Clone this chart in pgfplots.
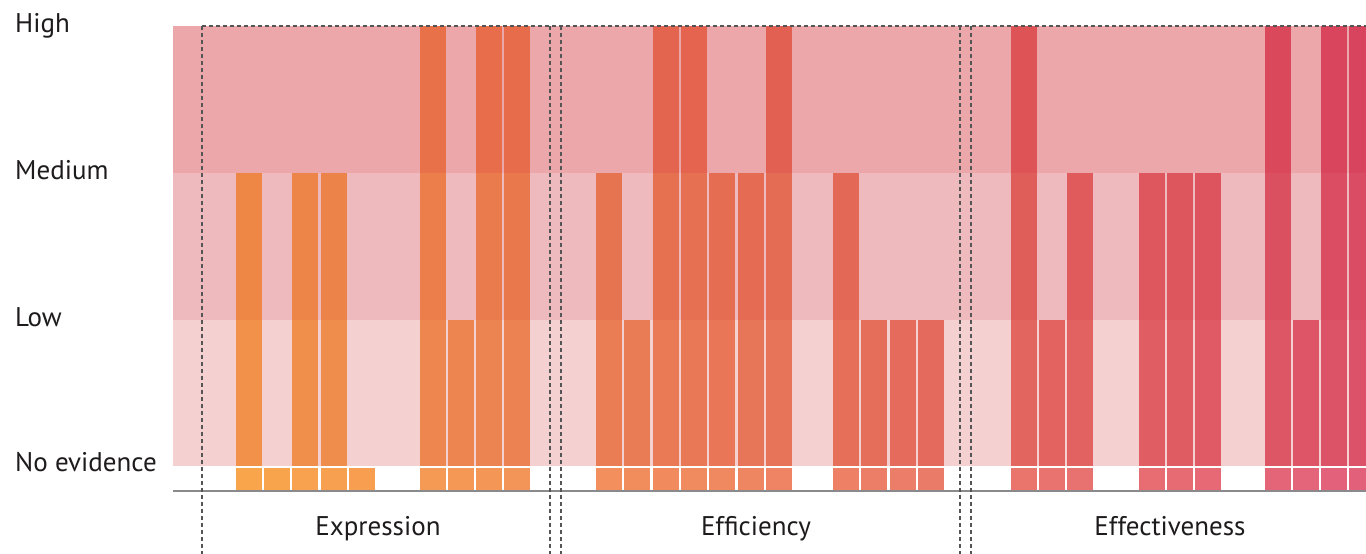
\documentclass[border=0pt]{standalone}
\usepackage{pgfplots}
\pgfplotsset{compat=1.18}
\usepackage{fontspec}
\setmainfont{PT Sans}
\definecolor{bandH}{HTML}{ECA7AB}
\definecolor{bandM}{HTML}{EFBABD}
\definecolor{bandL}{HTML}{F4D0D0}
\definecolor{bL}{HTML}{F9A64C}\definecolor{bR}{HTML}{E3607B}
\definecolor{lL}{HTML}{F1924A}\definecolor{lR}{HTML}{DC5268}
\definecolor{mL}{HTML}{EE8846}\definecolor{mR}{HTML}{DA4C63}
\definecolor{hL}{HTML}{EC7A46}\definecolor{hR}{HTML}{D8445D}
\definecolor{txt}{HTML}{1E1B1C}
\definecolor{basec}{HTML}{8A8A8C}
\definecolor{dashc}{HTML}{555555}
\pgfplotsset{seg/.style={ybar, bar width=26, bar shift=0pt, draw=none}}
\tikzset{lbl/.style={inner sep=0pt, text=txt, font=\fontsize{27}{31}\selectfont},
         dsh/.style={dashc, line width=1.1pt, dash pattern=on 4pt off 3pt}}
\begin{document}
\begin{tikzpicture}
\begin{axis}[
  scale only axis, width=1193pt, height=554pt,
  xmin=173, xmax=1366, ymin=-0.59184, ymax=3.17687,
  hide axis, clip mode=individual,
]
% background bands
\addplot[draw=none, fill=bandH] coordinates {(173,3) (1366,3)} \closedcycle;
\addplot[draw=none, fill=bandM] coordinates {(173,2) (1366,2)} \closedcycle;
\addplot[draw=none, fill=bandL] coordinates {(173,1) (1366,1)} \closedcycle;
% bars: x position / level (0 = No evidence, 1 = Low, 2 = Medium, 3 = High)
\foreach \x/\v in {249/2, 277/0, 305/2, 334/2, 362/0, 432.5/3, 460.5/1, 489/3, 517/3,
                   609/2, 637/1, 665.5/3, 693.5/3, 722/2, 750.5/2, 778.5/3, 846/2, 874/1, 902.5/1, 931/1,
                   1023.5/3, 1052/1, 1080/2, 1151.5/2, 1180/2, 1208/2, 1278/3, 1306/1, 1334/3, 1362/3}{
  \pgfmathtruncatemacro\p{(1362-\x)/11.13}
  \edef\temp{\noexpand\addplot[seg, fill=bL!\p!bR] coordinates {(\x,-0.1633)};}\temp
  \ifnum\v>2\relax \edef\temp{\noexpand\addplot[seg, fill=hL!\p!hR] coordinates {(\x,3)};}\temp\fi
  \ifnum\v>1\relax \edef\temp{\noexpand\addplot[seg, fill=mL!\p!mR] coordinates {(\x,2)};}\temp\fi
  \ifnum\v>0\relax \edef\temp{\noexpand\addplot[seg, fill=lL!\p!lR] coordinates {(\x,1)};}\temp\fi
}
\draw[white, line width=2pt] (axis cs:173,0) -- (axis cs:1366,0);
\draw[basec, line width=2pt] (axis cs:173,-0.1633) -- (axis cs:1366,-0.1633);
% dashed frames
\draw[dsh] (axis cs:202,3) -- (axis cs:1366,3);
\draw[dsh] (axis cs:202,3) -- (axis cs:202,-0.59184);
\draw[dsh] (axis cs:550,3) -- (axis cs:550,-0.59184);
\draw[dsh] (axis cs:561,3) -- (axis cs:561,-0.59184);
\draw[dsh] (axis cs:960,3) -- (axis cs:960,-0.59184);
\draw[dsh] (axis cs:971,3) -- (axis cs:971,-0.59184);
% level labels
\node[lbl, anchor=base west, yshift=-7pt] at (axis cs:15,3) {High};
\node[lbl, anchor=base west, yshift=-7pt] at (axis cs:15,2) {Medium};
\node[lbl, anchor=base west, yshift=-7pt] at (axis cs:15,1) {Low};
\node[lbl, anchor=base west, yshift=-5pt] at (axis cs:15,0) {No evidence};
% category labels
\node[lbl, anchor=base] at (axis cs:378,-0.469) {Expression};
\node[lbl, anchor=base] at (axis cs:756,-0.469) {Efficiency};
\node[lbl, anchor=base] at (axis cs:1170,-0.469) {Effectiveness};
\coordinate (BL) at (axis cs:0,-0.59184);
\coordinate (TR) at (axis cs:1366,3.17687);
\end{axis}
\pgfresetboundingbox
\useasboundingbox (BL) rectangle (TR);
\end{tikzpicture}
\end{document}
